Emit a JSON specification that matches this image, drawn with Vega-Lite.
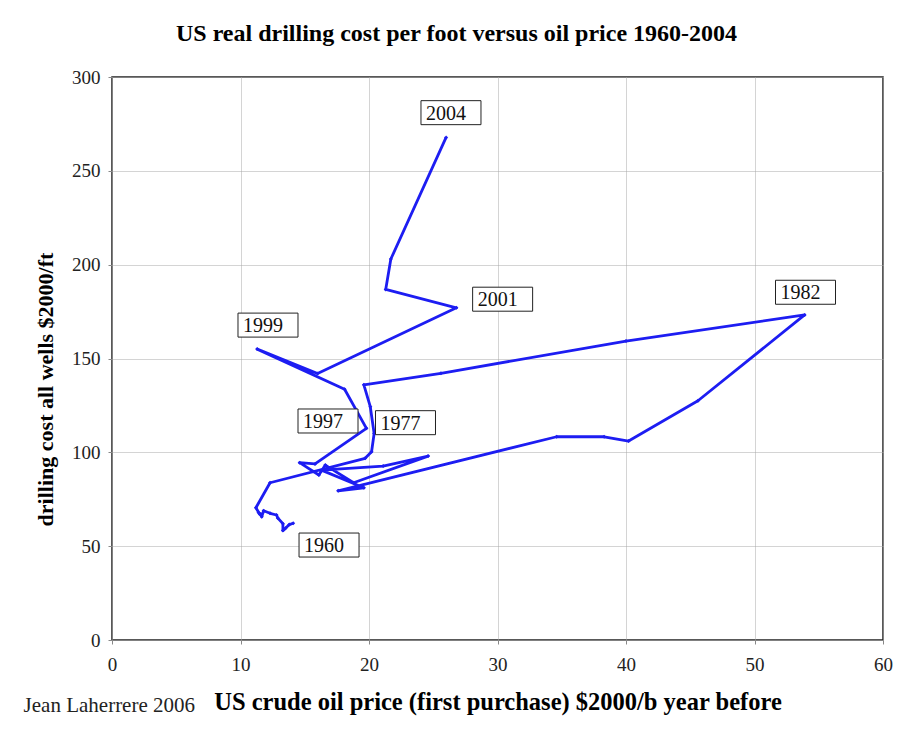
{
  "$schema": "https://vega.github.io/schema/vega-lite/v6.json",
  "width": 771,
  "height": 563,
  "autosize": {"type": "none"},
  "padding": {"left": 112, "top": 77, "right": 14, "bottom": 104},
  "background": "white",
  "config": {
    "font": "Liberation Serif",
    "view": {"stroke": "#222222", "strokeWidth": 1.5},
    "axis": {
      "domain": false,
      "grid": true,
      "gridColor": "#a8a8a8",
      "gridDash": [1, 1],
      "gridWidth": 1,
      "tickColor": "#888888",
      "tickSize": 4,
      "labelFlush": false,
      "labelFont": "Liberation Serif",
      "labelFontSize": 19,
      "labelColor": "#222222",
      "titleFont": "Liberation Serif",
      "titleFontWeight": "bold",
      "titleColor": "#000000"
    }
  },
  "title": {
    "text": "US real drilling cost per foot versus oil price 1960-2004",
    "font": "Liberation Serif",
    "fontSize": 24,
    "fontWeight": "bold",
    "color": "#000000",
    "offset": 22,
    "dx": -41,
    "anchor": "middle"
  },
  "datasets": {
    "path": [
      {"year": 1960, "price": 14.1, "cost": 62.2},
      {"year": 1961, "price": 13.8, "cost": 61.5},
      {"year": 1962, "price": 13.5, "cost": 59.5},
      {"year": 1963, "price": 13.3, "cost": 58.3},
      {"year": 1964, "price": 13.3, "cost": 62.0},
      {"year": 1965, "price": 12.9, "cost": 65.0},
      {"year": 1966, "price": 12.8, "cost": 66.6},
      {"year": 1967, "price": 12.3, "cost": 67.5},
      {"year": 1968, "price": 11.8, "cost": 68.9},
      {"year": 1969, "price": 11.65, "cost": 65.7},
      {"year": 1970, "price": 11.6, "cost": 67.0},
      {"year": 1971, "price": 11.4, "cost": 68.0},
      {"year": 1972, "price": 11.5, "cost": 67.0},
      {"year": 1973, "price": 11.2, "cost": 70.5},
      {"year": 1974, "price": 12.3, "cost": 83.8},
      {"year": 1975, "price": 19.7, "cost": 96.8},
      {"year": 1976, "price": 20.2, "cost": 100.3},
      {"year": 1977, "price": 20.4, "cost": 110.0},
      {"year": 1978, "price": 20.1, "cost": 124.3},
      {"year": 1979, "price": 19.6, "cost": 136.0},
      {"year": 1980, "price": 25.6, "cost": 142.1},
      {"year": 1981, "price": 40.0, "cost": 159.3},
      {"year": 1982, "price": 53.9, "cost": 173.2},
      {"year": 1983, "price": 45.6, "cost": 127.5},
      {"year": 1984, "price": 40.2, "cost": 106.0},
      {"year": 1985, "price": 38.3, "cost": 108.3},
      {"year": 1986, "price": 34.6, "cost": 108.3},
      {"year": 1987, "price": 17.6, "cost": 79.5},
      {"year": 1988, "price": 19.6, "cost": 81.1},
      {"year": 1989, "price": 16.3, "cost": 90.5},
      {"year": 1990, "price": 21.1, "cost": 92.7},
      {"year": 1991, "price": 24.6, "cost": 98.0},
      {"year": 1992, "price": 18.8, "cost": 83.8},
      {"year": 1993, "price": 16.6, "cost": 93.2},
      {"year": 1994, "price": 16.1, "cost": 87.9},
      {"year": 1995, "price": 14.6, "cost": 94.5},
      {"year": 1996, "price": 15.8, "cost": 93.8},
      {"year": 1997, "price": 19.8, "cost": 112.8},
      {"year": 1998, "price": 18.1, "cost": 133.6},
      {"year": 1999, "price": 11.3, "cost": 155.0},
      {"year": 2000, "price": 16.0, "cost": 142.0},
      {"year": 2001, "price": 26.8, "cost": 177.0},
      {"year": 2002, "price": 21.3, "cost": 186.8},
      {"year": 2003, "price": 21.7, "cost": 203.0},
      {"year": 2004, "price": 26.0, "cost": 267.8}
    ],
    "labels": [
      {"label": "2004", "price": 26.38, "cost": 281.0},
      {"label": "2001", "price": 30.4, "cost": 181.6},
      {"label": "1982", "price": 53.97, "cost": 185.3},
      {"label": "1999", "price": 12.14, "cost": 167.8},
      {"label": "1997", "price": 16.81, "cost": 116.7},
      {"label": "1977", "price": 22.84, "cost": 115.8},
      {"label": "1960", "price": 16.89, "cost": 50.6}
    ],
    "credit": [
      {"note": "Jean Laherrere 2006", "price": 6.46, "cost": -35.0}
    ]
  },
  "layer": [
    {
      "data": {"name": "path"},
      "mark": {"type": "line", "color": "#1d1df2", "strokeWidth": 2.8, "strokeJoin": "round"},
      "encoding": {
        "x": {
          "field": "price", "type": "quantitative",
          "scale": {"domain": [0, 60], "nice": false},
          "axis": {"values": [0, 10, 20, 30, 40, 50, 60], "title": "US crude oil price (first purchase) $2000/b year before", "titleFontSize": 24.5, "labelPadding": 11, "titlePadding": 16}
        },
        "y": {
          "field": "cost", "type": "quantitative",
          "scale": {"domain": [0, 300], "nice": false},
          "axis": {"values": [0, 50, 100, 150, 200, 250, 300], "title": "drilling cost all wells $2000/ft", "titleFontSize": 22, "labelPadding": 8, "titlePadding": 14, "titleY": 312}
        },
        "order": {"field": "year", "type": "quantitative"}
      }
    },
    {
      "data": {"name": "path"},
      "mark": {"type": "point", "shape": "diamond", "filled": true, "color": "#1d1df2", "size": 16, "opacity": 1},
      "encoding": {
        "x": {"field": "price", "type": "quantitative"},
        "y": {"field": "cost", "type": "quantitative"}
      }
    },
    {
      "data": {"name": "labels"},
      "mark": {"type": "point", "shape": "M-1,-0.4H1V0.4H-1Z", "size": 3600, "filled": false, "fill": "white", "fillOpacity": 1, "stroke": "#222222", "strokeWidth": 1, "opacity": 1},
      "encoding": {
        "x": {"field": "price", "type": "quantitative"},
        "y": {"field": "cost", "type": "quantitative"}
      }
    },
    {
      "data": {"name": "labels"},
      "mark": {"type": "text", "font": "Liberation Serif", "fontSize": 20, "color": "#111111", "dx": -5, "dy": 1, "align": "center", "baseline": "middle"},
      "encoding": {
        "x": {"field": "price", "type": "quantitative"},
        "y": {"field": "cost", "type": "quantitative"},
        "text": {"field": "label"}
      }
    },
    {
      "data": {"name": "credit"},
      "mark": {"type": "text", "font": "Liberation Serif", "fontSize": 21, "color": "#222222", "align": "right", "baseline": "middle"},
      "encoding": {
        "x": {"field": "price", "type": "quantitative"},
        "y": {"field": "cost", "type": "quantitative"},
        "text": {"field": "note"}
      }
    }
  ]
}
